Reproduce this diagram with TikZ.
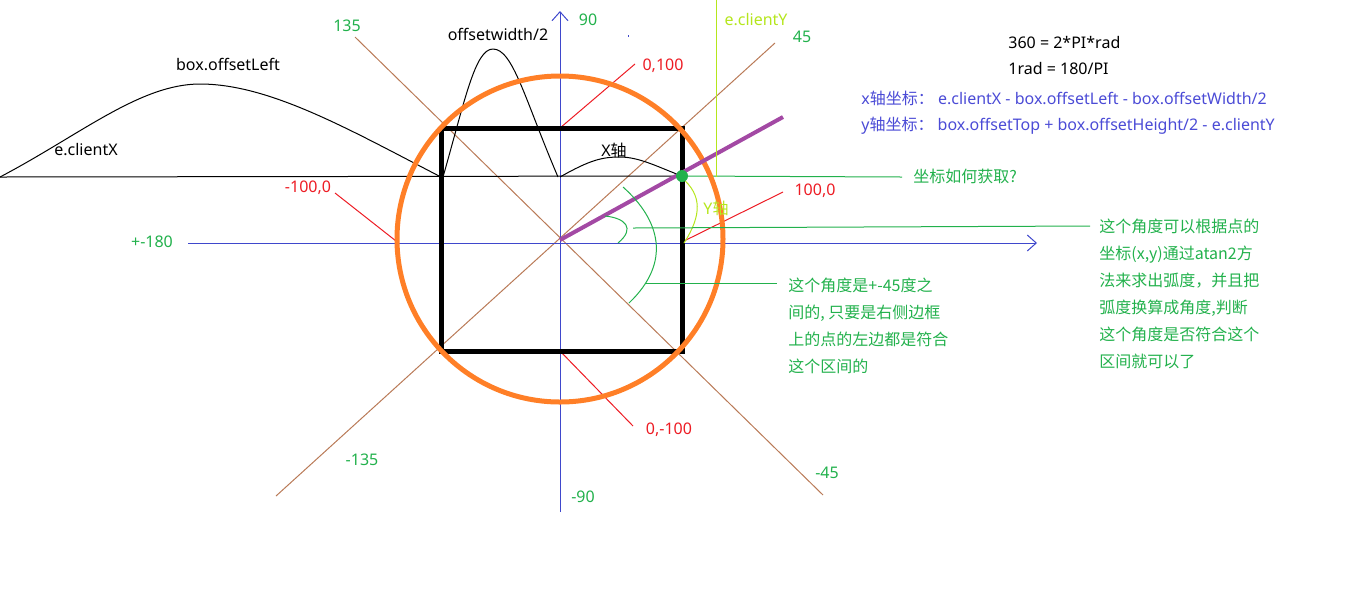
\documentclass[tikz,border=0pt]{standalone}
\usepackage{fontspec}
\setmainfont{Noto Sans}
\newfontfamily\zh{Noto Sans CJK SC}
\usetikzlibrary{arrows.meta}
\definecolor{pgreen}{HTML}{22B14C}
\definecolor{pred}{HTML}{ED1C24}
\definecolor{pblue}{HTML}{3F48CC}
\definecolor{tblue}{HTML}{4B4BD6}
\definecolor{porange}{HTML}{FF7F27}
\definecolor{ppurple}{HTML}{A349A4}
\definecolor{plime}{HTML}{B5E61D}
\definecolor{pbrown}{HTML}{B97A57}

\begin{document}
\begin{tikzpicture}[x=0.5pt,y=-0.5pt,>={Straight Barb[length=4.5pt,width=8pt]},
    txt/.style={inner sep=0pt,font=\fontsize{8pt}{13.5pt}\selectfont},
    tw/.style={txt,anchor=west,align=left},
    hair/.style={line width=0.5pt}]
    \useasboundingbox (0,0) rectangle (1360,591);
    \coordinate (o) at (560,240);
    \coordinate (d1a) at (355,37);
    \coordinate (d1b) at (823,495);
    \coordinate (d2a) at (276,496);
    \coordinate (d2b) at (775,43);
    \coordinate (xl) at (188,243);
    \coordinate (xr) at (1037,243);
    \coordinate (yb) at (560,512);
    \coordinate (yt) at (560,11);
    \coordinate (bx1) at (441,128);
    \coordinate (bx2) at (682,351);
    \coordinate (top) at (560,128);
    \coordinate (rgt) at (682,242);
    \coordinate (lft) at (396,241);
    \coordinate (bot) at (560,351);
    \coordinate (topend) at (635,64);
    \coordinate (rgtend) at (783,192);
    \coordinate (lftend) at (335,193);
    \coordinate (botend) at (633,426);
    \coordinate (h0) at (0,177);
    \coordinate (hl) at (441,177);
    \coordinate (hl2) at (443,177);
    \coordinate (hm) at (560,177);
    \coordinate (hm2) at (558,177);
    \coordinate (pt) at (682,176);
    \coordinate (hend) at (902,177);
    \coordinate (pe) at (783,117);
    \coordinate (cy0) at (716,0);
    \coordinate (cy1) at (716,177);
    \coordinate (ya) at (682,178);
    \coordinate (yz) at (684,243);
    \coordinate (sa) at (605,216);
    \coordinate (sz) at (618,243);
    \coordinate (ga) at (623,187);
    \coordinate (gz) at (629,303);
    \coordinate (s1) at (633,228);
    \coordinate (s2) at (1090,226);
    \coordinate (g1) at (645,283);
    \coordinate (g2) at (777,283);
    \draw [hair,pbrown] (d1a) -- (d1b);
    \draw [hair,pbrown] (d2a) -- (d2b);
    \draw [hair,pblue,->] (xl) -- (xr);
    \draw [hair,pblue,->] (yb) -- (yt);
    \fill [pblue] (627.5,35) rectangle (629,36.5);
    \draw [hair,pred] (top) -- (topend);
    \draw [hair,pred] (rgt) -- (rgtend);
    \draw [hair,pred] (lft) -- (lftend);
    \draw [hair,pred] (bot) -- (botend);
    \draw [hair] (h0) -- (pt);
    \draw [hair,pgreen] (pt) -- (hend);
    \draw [hair] (h0) .. controls (80,135) and (140,84) .. (200,84) .. controls (270,84) and (350,130) .. (hl);
    \draw [hair] (hl2) .. controls (465,100) and (475,49) .. (493,49) .. controls (513,49) and (525,100) .. (hm2);
    \draw [hair] (hm) .. controls (590,160) and (602,157) .. (620,157) .. controls (640,157) and (660,168) .. (pt);
    \draw [line width=2.5pt] (bx1) rectangle (bx2);
    \draw [line width=2.5pt,porange] (560,239) circle (81.5pt);
    \draw [line width=2pt,ppurple] (o) -- (pe);
    \draw [hair,plime] (cy0) -- (cy1);
    \draw [hair,plime] (ya) .. controls (702,195) and (702,215) .. (yz);
    \draw [hair,pgreen] (sa) .. controls (625,218) and (636,228) .. (sz);
    \draw [hair,pgreen] (ga) .. controls (660,220) and (672,262) .. (gz);
    \draw [hair,pgreen] (s1) -- (s2);
    \draw [hair,pgreen] (g1) -- (g2);
    \fill [pgreen] (pt) circle (3pt);
    \node [txt] (offl) at (228,64) {box.offsetLeft};
    \node [txt] (clx) at (86,150) {e.clientX};
    \node [txt] (offw) at (498,34) {offsetwidth/2};
    \node [txt] (xaxis) at (614,150) {X{\zh 轴}};
    \node [txt,plime] (yaxis) at (716,208) {Y{\zh 轴}};
    \node [txt,plime] (cly) at (756,20) {e.clientY};
    \node [txt,pgreen] (a135) at (347,26) {135};
    \node [txt,pgreen] (a90) at (588,20) {90};
    \node [txt,pgreen] (a45) at (802,37) {45};
    \node [txt,pgreen] (a180) at (152,242) {+-180};
    \node [txt,pgreen] (am135) at (362,460) {-135};
    \node [txt,pgreen] (am90) at (583,497) {-90};
    \node [txt,pgreen] (am45) at (827,473) {-45};
    \node [txt,pred] (p0100) at (663,66) {0,100};
    \node [txt,pred] (p1000) at (815,191) {100,0};
    \node [txt,pred] (pm1000) at (308,188) {-100,0};
    \node [txt,pred] (p0m100) at (669,430) {0,-100};
    \node [tw,pgreen] (how) at (913,176) {\zh 坐标如何获取?};
    \node [tw] (eq1) at (1008,42) {360 = 2*PI*rad};
    \node [tw] (eq2) at (1008,68) {1rad = 180/PI};
    \node [tw,tblue] (fx) at (861,98) {x{\zh 轴坐标：}\ e.clientX - box.offsetLeft - box.offsetWidth/2};
    \node [tw,tblue] (fy) at (861,126) {y{\zh 轴坐标：}\ box.offsetTop + box.offsetHeight/2 - e.clientY};
    \node [tw,pgreen] (note1) at (788,325.5) {\zh 这个角度是+-45度之\\\zh 间的, 只要是右侧边框\\\zh 上的点的左边都是符合\\\zh 这个区间的};
    \node [tw,pgreen] (note2) at (1099,293.5) {\zh 这个角度可以根据点的\\\zh 坐标(x,y)通过atan2方\\\zh 法来求出弧度，并且把\\\zh 弧度换算成角度,判断\\\zh 这个角度是否符合这个\\\zh 区间就可以了};
\end{tikzpicture}
\end{document}
